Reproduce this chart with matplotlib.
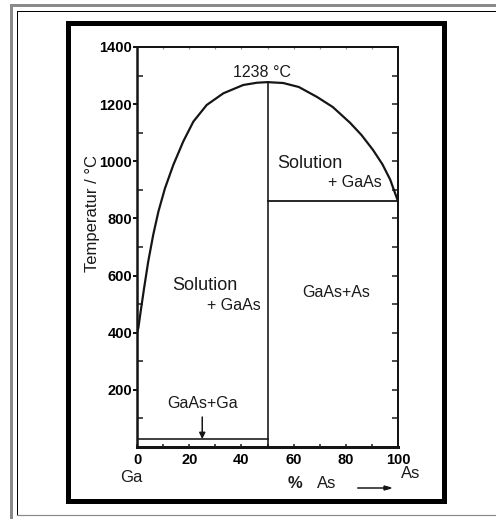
import matplotlib
matplotlib.use("Agg")
import matplotlib.pyplot as plt
from matplotlib.lines import Line2D
from matplotlib.patches import Rectangle

# liquidus (% As, degrees C)
liq_left_x = [0, 0.5, 1.4, 2.7, 4.3, 6.2, 8.2, 10.7, 13.9, 17.7, 21.6, 26.7, 33.1, 40.7, 46, 50]
liq_left_t = [400, 416, 474, 555, 649, 742, 824, 905, 987, 1069, 1139, 1197, 1238, 1267, 1275, 1277]
liq_right_x = [50, 56, 62, 69, 75, 81.6, 86, 90.4, 94, 97, 100]
liq_right_t = [1277, 1274, 1260, 1225, 1190, 1135, 1092, 1040, 990, 936, 860]

gaas_x = 50          # GaAs compound line
eutectic_t = 860     # GaAs + As eutectic
ga_melt_t = 28       # GaAs + Ga line
arrow_x = 25

y_ticks = [200, 400, 600, 800, 1000, 1200, 1400]
y_labels = ["200", "400", "600", "800", "1000", "1200", "1400"]
x_ticks = [0, 20, 40, 60, 80, 100]
x_labels = ["0", "20", "40", "60", "80", "100"]

W, H = 496, 519
DPI = 100
fig = plt.figure(figsize=(W / DPI, H / DPI), dpi=DPI)
fig.patch.set_facecolor("white")

def fx(x):
    return x / W

def fy(y):
    return 1 - y / H

def pt(px):
    return px * 72 / DPI

# frames around the picture (pixel coords)
fig.add_artist(Line2D([fx(10.5), fx(10.5)], [fy(4.5), fy(519)], color="#8a8a8a", lw=pt(3)))
fig.add_artist(Line2D([fx(10.5), fx(496)], [fy(4.5), fy(4.5)], color="#8a8a8a", lw=pt(3)))
fig.add_artist(Line2D([fx(17), fx(17)], [fy(11), fy(515)], color="black", lw=pt(1)))
fig.add_artist(Line2D([fx(17), fx(496)], [fy(11), fy(11)], color="black", lw=pt(1)))
fig.add_artist(Line2D([fx(17), fx(496)], [fy(515), fy(515)], color="#8a8a8a", lw=pt(1.2)))
fig.add_artist(Rectangle((fx(67.5), fy(500.5)), fx(444.5) - fx(67.5), fy(23) - fy(500.5),
                         fill=False, ec="black", lw=pt(5), transform=fig.transFigure))

ax = fig.add_axes([fx(137), fy(447), fx(398) - fx(137), fy(47) - fy(447)])
ax.set_xlim(0, 100)
ax.set_ylim(0, 1400)

lc = "#151515"
ax.plot(liq_left_x, liq_left_t, color=lc, lw=pt(2.2), solid_capstyle="round", solid_joinstyle="round")
ax.plot(liq_right_x, liq_right_t, color=lc, lw=pt(2.2), solid_capstyle="round", solid_joinstyle="round")
ax.plot([gaas_x, gaas_x], [0, liq_left_t[-1]], color=lc, lw=pt(1.6))
ax.plot([gaas_x, 100], [eutectic_t, eutectic_t], color=lc, lw=pt(1.8))
ax.plot([0, gaas_x], [ga_melt_t, ga_melt_t], color=lc, lw=pt(1.6))
ax.plot([0, 0], [0, liq_left_t[0]], color=lc, lw=pt(2.2))
ax.annotate("", xy=(arrow_x, ga_melt_t), xytext=(arrow_x, 105),
            arrowprops=dict(arrowstyle="-|>", color=lc, lw=pt(1.5), mutation_scale=9,
                            shrinkA=0, shrinkB=0))

# spines
for side, w in [("left", 2.5), ("bottom", 3), ("top", 2), ("right", 2)]:
    ax.spines[side].set_linewidth(pt(w))
    ax.spines[side].set_color(lc)

tick_font = dict(family=["Liberation Sans Narrow", "Liberation Sans"], weight="bold", size=10.5)

ax.set_yticks(y_ticks)
ax.set_yticklabels(y_labels, **tick_font)
ax.set_yticks(range(100, 1400, 200), minor=True)
ax.tick_params(axis="y", which="major", direction="out", length=pt(4), width=pt(2),
               pad=pt(1), right=False, color=lc)
ax.tick_params(axis="y", which="minor", direction="in", length=pt(6), width=pt(1.5),
               right=False, color=lc)

ax.set_xticks(x_ticks)
ax.set_xticklabels(x_labels, **tick_font)
ax.set_xticks(range(10, 100, 20), minor=True)
ax.tick_params(axis="x", which="both", direction="in", length=pt(3.5), width=pt(1.5),
               pad=pt(6), top=False, color=lc)

# right and top ticks
sec_r = ax.secondary_yaxis("right")
sec_r.set_yticks(range(100, 1400, 100))
sec_r.tick_params(direction="in", length=pt(6), width=pt(1.5), labelright=False, color=lc)
sec_r.spines["right"].set_visible(False)
sec_t = ax.secondary_xaxis("top")
sec_t.set_xticks(range(10, 100, 10))
sec_t.tick_params(direction="in", length=pt(2), width=pt(1.2), labeltop=False, color="#909090")
sec_t.spines["top"].set_visible(False)

txt = dict(family="Liberation Sans", color="#1a1a1a")
ax.text(48, 1312, "1238 °C", ha="center", va="center", size=11.5, **txt)
ax.text(53.6, 994, "Solution", ha="left", va="center", size=13, **txt)
ax.text(73.2, 927, "+ GaAs", ha="left", va="center", size=11.5, **txt)
ax.text(13.4, 567, "Solution", ha="left", va="center", size=13, **txt)
ax.text(26.8, 497, "+ GaAs", ha="left", va="center", size=11.5, **txt)
ax.text(63.2, 542, "GaAs+As", ha="left", va="center", size=11.5, **txt)
ax.text(11.5, 154, "GaAs+Ga", ha="left", va="center", size=11.5, **txt)

# labels outside the axes
fig.text(fx(131), fy(477), "Ga", ha="center", va="center", size=12, **txt)
fig.text(fx(411), fy(474), "As", ha="center", va="center", size=12, **txt)
fig.text(fx(295), fy(483), "%", ha="center", va="center", size=12, weight="bold", **txt)
fig.text(fx(327), fy(483), "As", ha="center", va="center", size=12, **txt)
fig.add_artist(Line2D([fx(358), fx(385)], [fy(488), fy(488)], color=lc, lw=pt(1.5)))
fig.add_artist(plt.Polygon([[fx(384), fy(486)], [fx(391), fy(488)], [fx(384), fy(490)]],
                           closed=True, color=lc, transform=fig.transFigure))
fig.text(fx(92), fy(213), "Temperatur / °C", ha="center", va="center", rotation=90,
         size=12, **txt)

fig.savefig("out.png", dpi=DPI)
